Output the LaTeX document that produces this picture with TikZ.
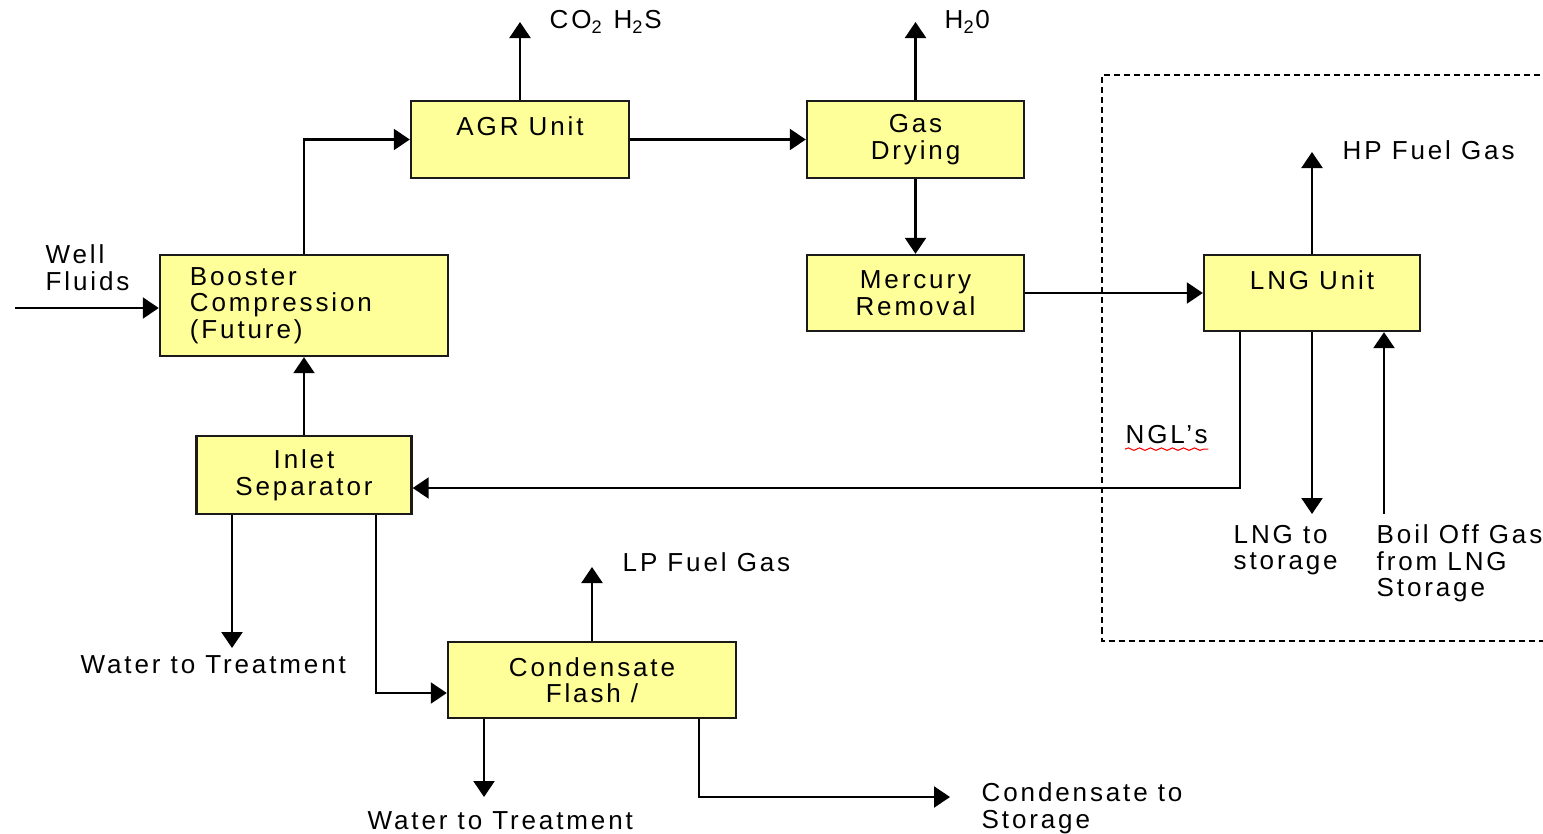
\documentclass[tikz,border=0pt]{standalone}
\usepackage{fontspec}
\setmainfont[LetterSpace=11]{Liberation Sans}
\usepackage{tikz}
\usetikzlibrary{arrows.meta,positioning,calc,decorations.pathmorphing}
\definecolor{unitfill}{HTML}{FFFF99}
\definecolor{unitline}{HTML}{1A1A1A}
\tikzset{
  unit/.style={draw=unitline,fill=unitfill,line width=0.65pt,align=center,inner sep=0pt,font=\fontsize{7.4}{7.55}\selectfont},
  lbl/.style={inner sep=0pt,anchor=west,align=left,font=\fontsize{7.4}{7.55}\selectfont},
  flow/.style={-{Triangle[length=1.6mm,width=2.1mm]},line width=0.65pt},
}
\begin{document}
\begin{tikzpicture}[x=0.01cm,y=-0.01cm]
  \useasboundingbox (0,0) rectangle (1543,833);
  \node[unit,minimum width=2.18cm,minimum height=0.77cm] (agr) at (520,139.5) {AGR Unit\\~};
  \node[unit,minimum width=2.17cm,minimum height=0.77cm] (dry) at (915.5,139.5) {Gas\\Drying};
  \node[unit,minimum width=2.17cm,minimum height=0.76cm] (hg) at (915.5,293) {Mercury\\Removal};
  \node[unit,minimum width=2.16cm,minimum height=0.76cm] (lng) at (1312,293) {LNG Unit\\~};
  \node[unit,minimum width=2.88cm,minimum height=1.01cm,text width=2.28cm,align=left] (boost) at (304,305.5) {Booster\\Compression\\(Future)};
  \node[unit,minimum width=2.15cm,minimum height=0.78cm] (inlet) at (304,475) {Inlet\\Separator};
  \node[unit,minimum width=2.88cm,minimum height=0.76cm] (cond) at (592,680) {Condensate\\Flash /};
  \node[lbl] (well) at (45,267.5) {Well\\Fluids};
  \node[lbl] (co2) at (549,22) {CO\textsubscript{2} H\textsubscript{2}S};
  \node[lbl] (h2o) at (944,22) {H\textsubscript{2}0};
  \node[lbl] (hpfuel) at (1342,150) {HP Fuel Gas};
  \node[lbl] (ngl) at (1125,435) {NGL's};
  \node[lbl] (lngsto) at (1233,550) {LNG to\\storage};
  \node[lbl] (bog) at (1376,563.5) {Boil Off Gas\\from LNG\\Storage};
  \node[lbl] (wt1) at (80,665) {Water to Treatment};
  \node[lbl] (lpfuel) at (622,562) {LP Fuel Gas};
  \node[lbl] (wt2) at (367,821) {Water to Treatment};
  \node[lbl] (condsto) at (981,808) {Condensate to\\Storage};
  \coordinate (wellin) at (15,308);
  \coordinate (co2out) at (520,22);
  \coordinate (h2oout) at (915.5,22);
  \coordinate (hpout) at (1312,152);
  \coordinate (lngout) at (1312,514);
  \coordinate (bogin) at (1384,514);
  \coordinate (wt1out) at (232,648);
  \coordinate (lpout) at (592,567);
  \coordinate (wt2out) at (484,797);
  \coordinate (condout) at (950,797);
  \draw[dashed,dash pattern=on 0.06cm off 0.04cm,line width=0.45pt] (1560,75) -| (1102,641) -- (1560,641);
  \draw[flow] (wellin) -- (wellin -| boost.west);
  \draw[flow] (boost.north) |- (agr.west);
  \foreach \x/\y in {agr.east/dry.west,dry.south/hg.north,hg.east/lng.west,inlet.north/boost.south,agr.north/co2out,dry.north/h2oout,lng.north/hpout,lng.south/lngout,cond.north/lpout} \draw[flow] (\x) -- (\y);
  \draw[flow] (bogin) -- (bogin |- lng.south);
  \draw[flow] ([xshift=-0.72cm]lng.south) |- ([yshift=-0.13cm]inlet.east);
  \draw[flow] (wt1out |- inlet.south) -- (wt1out);
  \draw[flow] ([xshift=0.72cm]inlet.south) |- ([yshift=-0.13cm]cond.west);
  \draw[flow] (wt2out |- cond.south) -- (wt2out);
  \draw[flow] ([xshift=1.07cm]cond.south) |- (condout);
  \draw[red,line width=0.3pt,decorate,decoration={snake,amplitude=0.35pt,segment length=1.1mm}] ([yshift=-1.2pt]ngl.south west) -- ([yshift=-1.2pt]ngl.south east);
\end{tikzpicture}
\end{document}
